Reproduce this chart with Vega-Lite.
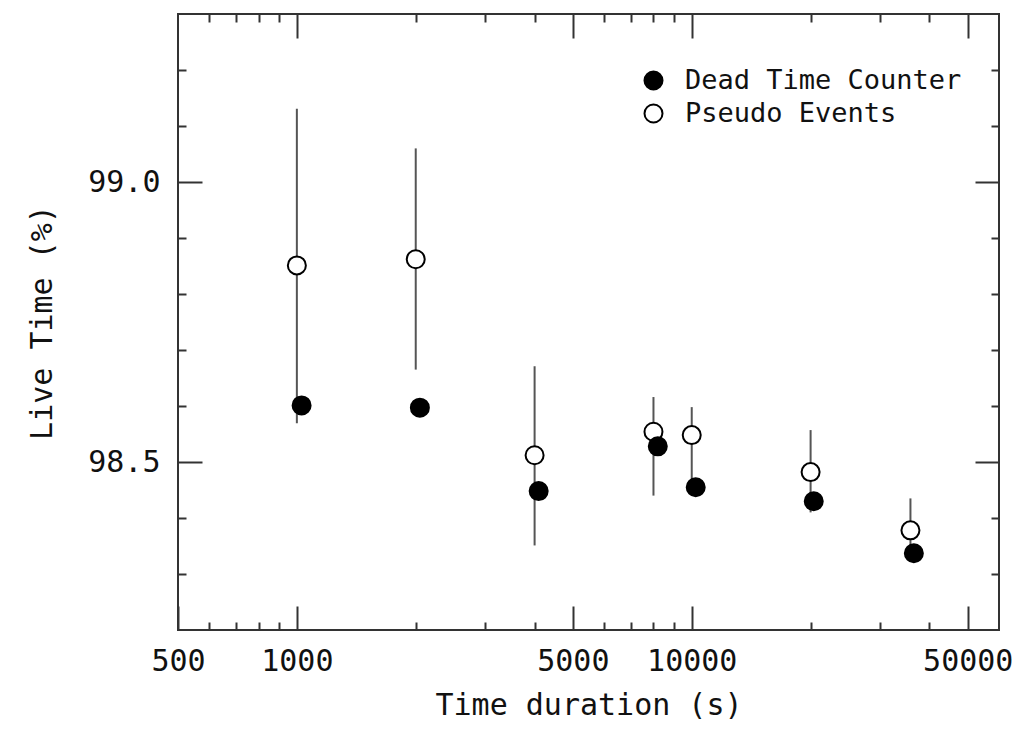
{
  "$schema": "https://vega.github.io/schema/vega-lite/v6.json",
  "width": 821,
  "height": 616,
  "autosize": {"type": "none"},
  "padding": {"left": 178, "top": 14, "right": 23, "bottom": 101},
  "background": "white",
  "config": {
    "view": {"stroke": "#333", "strokeWidth": 2, "fill": "white"},
    "axis": {
      "domain": false,
      "grid": false,
      "ticks": true,
      "tickWidth": 2,
      "tickColor": "#333",
      "labelFont": "DejaVu Sans Mono",
      "labelFontSize": 30,
      "labelColor": "#111",
      "labelOverlap": false,
      "labelFlush": false,
      "titleFont": "DejaVu Sans Mono",
      "titleFontSize": 30,
      "titleFontWeight": "normal",
      "titleColor": "#111"
    },
    "legend": {
      "labelFont": "DejaVu Sans Mono",
      "labelFontSize": 27,
      "labelColor": "#111",
      "labelLimit": 500
    }
  },
  "data": {
    "values": [
      {"t": 1000, "v": 98.851, "lo": 98.569, "hi": 99.131, "series": "Pseudo Events"},
      {"t": 2000, "v": 98.862, "lo": 98.665, "hi": 99.060, "series": "Pseudo Events"},
      {"t": 4000, "v": 98.512, "lo": 98.351, "hi": 98.671, "series": "Pseudo Events"},
      {"t": 8000, "v": 98.554, "lo": 98.440, "hi": 98.616, "series": "Pseudo Events"},
      {"t": 10000, "v": 98.548, "lo": 98.46, "hi": 98.598, "series": "Pseudo Events"},
      {"t": 20000, "v": 98.482, "lo": 98.41, "hi": 98.557, "series": "Pseudo Events"},
      {"t": 35800, "v": 98.378, "lo": 98.33, "hi": 98.435, "series": "Pseudo Events"},
      {"t": 1028, "v": 98.601, "series": "Dead Time Counter"},
      {"t": 2049, "v": 98.597, "series": "Dead Time Counter"},
      {"t": 4096, "v": 98.448, "series": "Dead Time Counter"},
      {"t": 8204, "v": 98.528, "series": "Dead Time Counter"},
      {"t": 10235, "v": 98.455, "series": "Dead Time Counter"},
      {"t": 20370, "v": 98.430, "series": "Dead Time Counter"},
      {"t": 36520, "v": 98.337, "series": "Dead Time Counter"}
    ]
  },
  "layer": [
    {
      "transform": [{"filter": "datum.series == 'Pseudo Events' && datum.t < 5000"}],
      "mark": {"type": "rule", "color": "#555", "strokeWidth": 2},
      "encoding": {
        "x": {
          "field": "t", "type": "quantitative",
          "scale": {"type": "log", "domain": [500, 60000], "nice": false},
          "axis": {
            "orient": "top", "title": null, "labels": false, "offset": -24, "tickSize": 24,
            "values": [1000, 5000, 10000, 50000]
          }
        },
        "y": {
          "field": "lo", "type": "quantitative",
          "scale": {"domain": [98.2, 99.3], "nice": false, "zero": false},
          "axis": {
            "orient": "right", "title": null, "labels": false, "offset": -24, "tickSize": 24,
            "values": [98.5, 99.0]
          }
        },
        "y2": {"field": "hi"}
      }
    },
    {
      "transform": [{"filter": "datum.series == 'Pseudo Events' && datum.t >= 5000"}],
      "mark": {"type": "rule", "color": "#555", "strokeWidth": 2},
      "encoding": {
        "x": {
          "field": "t", "type": "quantitative",
          "axis": {
            "orient": "top", "title": null, "labels": false, "offset": -8, "tickSize": 8,
            "values": [600, 700, 800, 900, 2000, 3000, 4000, 6000, 7000, 8000, 9000, 20000, 30000, 40000]
          }
        },
        "y": {
          "field": "lo", "type": "quantitative",
          "axis": {
            "orient": "right", "title": null, "labels": false, "offset": -8, "tickSize": 8,
            "values": [98.3, 98.4, 98.6, 98.7, 98.8, 98.9, 99.1, 99.2]
          }
        },
        "y2": {"field": "hi"}
      }
    },
    {
      "transform": [{"filter": "datum.series == 'Pseudo Events'"}],
      "mark": {"type": "point", "shape": "circle", "filled": true, "size": 324, "stroke": "black", "strokeWidth": 2, "opacity": 1},
      "encoding": {
        "x": {
          "field": "t", "type": "quantitative",
          "axis": {
            "orient": "bottom", "title": null, "labels": false, "offset": -8, "tickSize": 8,
            "values": [600, 700, 800, 900, 2000, 3000, 4000, 6000, 7000, 8000, 9000, 20000, 30000, 40000]
          }
        },
        "y": {
          "field": "v", "type": "quantitative",
          "axis": {
            "orient": "left", "title": null, "labels": false, "offset": -8, "tickSize": 8,
            "values": [98.3, 98.4, 98.6, 98.7, 98.8, 98.9, 99.1, 99.2]
          }
        },
        "fill": {
          "field": "series", "type": "nominal",
          "scale": {"domain": ["Dead Time Counter", "Pseudo Events"], "range": ["black", "white"]},
          "legend": {
            "orient": "none", "legendX": 462, "legendY": 53, "title": null,
            "symbolType": "circle", "symbolSize": 324, "symbolStrokeColor": "black", "symbolStrokeWidth": 2,
            "symbolOpacity": 1, "labelOffset": 18, "rowPadding": 5, "padding": 0, "labelLimit": 500
          }
        }
      }
    },
    {
      "transform": [{"filter": "datum.series == 'Dead Time Counter'"}],
      "mark": {"type": "point", "shape": "circle", "filled": true, "size": 324, "stroke": "black", "strokeWidth": 2, "opacity": 1},
      "encoding": {
        "x": {
          "field": "t", "type": "quantitative",
          "axis": {
            "orient": "bottom", "title": "Time duration (s)", "offset": -24, "tickSize": 24,
            "values": [500, 1000, 5000, 10000, 50000],
            "format": "d",
            "labelPadding": 16,
            "titlePadding": 14
          }
        },
        "y": {
          "field": "v", "type": "quantitative",
          "axis": {
            "orient": "left", "title": "Live Time (%)", "offset": -24, "tickSize": 24,
            "values": [98.5, 99.0],
            "format": ".1f",
            "labelPadding": 18,
            "titlePadding": 30
          }
        },
        "fill": {"field": "series", "type": "nominal"}
      }
    }
  ],
  "resolve": {"axis": {"x": "independent", "y": "independent"}}
}
